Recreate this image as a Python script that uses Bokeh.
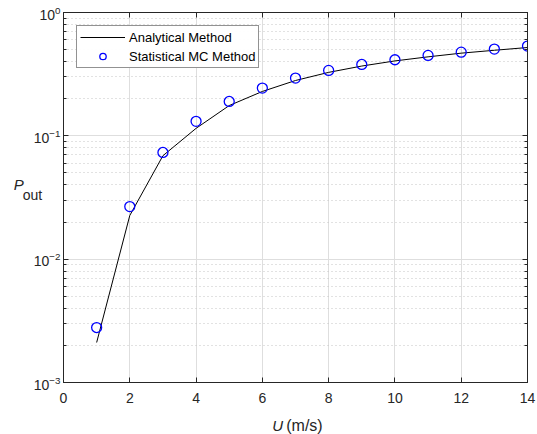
from bokeh.plotting import figure
from bokeh.models import (LinearAxis, LogAxis, Range1d, Label, Legend, LegendItem,
                          SingleIntervalTicker, LogTicker)
from bokeh.embed import file_html
from bokeh.resources import INLINE

# data
u_line = [1, 2, 3, 4, 5, 6, 7, 8, 9, 10, 11, 12, 13, 14]
p_analytical = [0.00211, 0.0226, 0.069, 0.115, 0.176, 0.229, 0.281, 0.327,
                0.368, 0.405, 0.437, 0.468, 0.494, 0.52]
u_mc = [1, 2, 3, 4, 5, 6, 7, 8, 9, 10, 11, 12, 13, 14]
p_mc = [0.00279, 0.0267, 0.0733, 0.131, 0.190, 0.244, 0.294, 0.339,
        0.379, 0.414, 0.449, 0.477, 0.505, 0.534]
x_tick_interval = 2
x_limits = (0, 14)
y_limits = (1e-3, 1)

FONT = "Liberation Sans"
AX = "#262626"
W, H = 537, 434

p = figure(width=W, height=H, output_backend="svg", toolbar_location=None,
           y_axis_type="log", x_range=Range1d(*x_limits), y_range=Range1d(*y_limits),
           min_border_left=61, min_border_right=10, min_border_top=12, min_border_bottom=52,
           x_axis_location=None, y_axis_location=None)
p.outline_line_color = None
p.background_fill_color = "white"

xt = SingleIntervalTicker(interval=x_tick_interval, num_minor_ticks=0)
yt = LogTicker(num_minor_ticks=10)

def style(ax, labels=True):
    ax.axis_line_color = AX
    ax.axis_line_width = 1
    ax.major_tick_in = 5
    ax.major_tick_out = 0
    ax.minor_tick_out = 0
    ax.minor_tick_line_color = AX
    ax.major_tick_line_color = AX
    ax.major_label_text_font = FONT
    ax.major_label_text_font_size = "14px"
    ax.major_label_text_color = AX
    if not labels:
        ax.major_label_text_alpha = 0
        ax.major_label_text_font_size = "0px"
        ax.major_label_standoff = 0

xb = LinearAxis(ticker=xt); style(xb); xb.major_label_standoff = 10
xa = LinearAxis(ticker=xt); style(xa, False)
yl = LogAxis(ticker=yt); style(yl); yl.minor_tick_in = 3; yl.major_label_standoff = 3
yr = LogAxis(ticker=yt); style(yr, False); yr.minor_tick_in = 3
p.add_layout(xb, "below")
p.add_layout(xa, "above")
p.add_layout(yl, "left")
p.add_layout(yr, "right")

p.xgrid.ticker = xt
p.ygrid.ticker = yt
for g in (p.xgrid, p.ygrid):
    g.grid_line_color = "#dedede"
    g.grid_line_width = 1
p.ygrid.minor_grid_line_color = "#c4c4c4"
p.ygrid.minor_grid_line_dash = "1 3"
p.ygrid.minor_grid_line_width = 1

r_line = p.line(u_line, p_analytical, line_color="black", line_width=1)
r_mc = p.scatter(u_mc, p_mc, marker="circle", size=10, fill_color=None,
                 line_color="#0000ff", line_width=1.3)

legend = Legend(items=[LegendItem(label="Analytical Method", renderers=[r_line]),
                       LegendItem(label="Statistical MC Method", renderers=[r_mc])],
                location="top_left")
legend.label_text_font = FONT
legend.label_text_font_size = "13px"
legend.label_text_color = "#000000"
legend.border_line_color = AX
legend.border_line_width = 1
legend.glyph_width = 45
legend.glyph_height = 16
legend.label_height = 16
legend.spacing = 3
legend.padding = 3
legend.margin = 13
legend.label_standoff = 4
p.add_layout(legend)

# axis labels (mixed italic), held in side panels so they are not clipped;
# their positions are given in data coordinates
def lab(x, y, text, size, side, italic=False):
    p.add_layout(Label(x=x, y=y, text=text, text_baseline="alphabetic",
                       text_font=FONT,
                       text_font_style="italic" if italic else "normal",
                       text_font_size=size, text_color=AX), side)

lab(6.30, 4.48e-4, "U", "15px", "left", True)
lab(6.72, 4.48e-4, "(m/s)", "16px", "below")
lab(-1.50, 0.0403, "P", "15px", "right", True)
lab(-1.23, 0.0334, "out", "14px", "left")

open("out.html", "w").write(file_html(p, INLINE))
